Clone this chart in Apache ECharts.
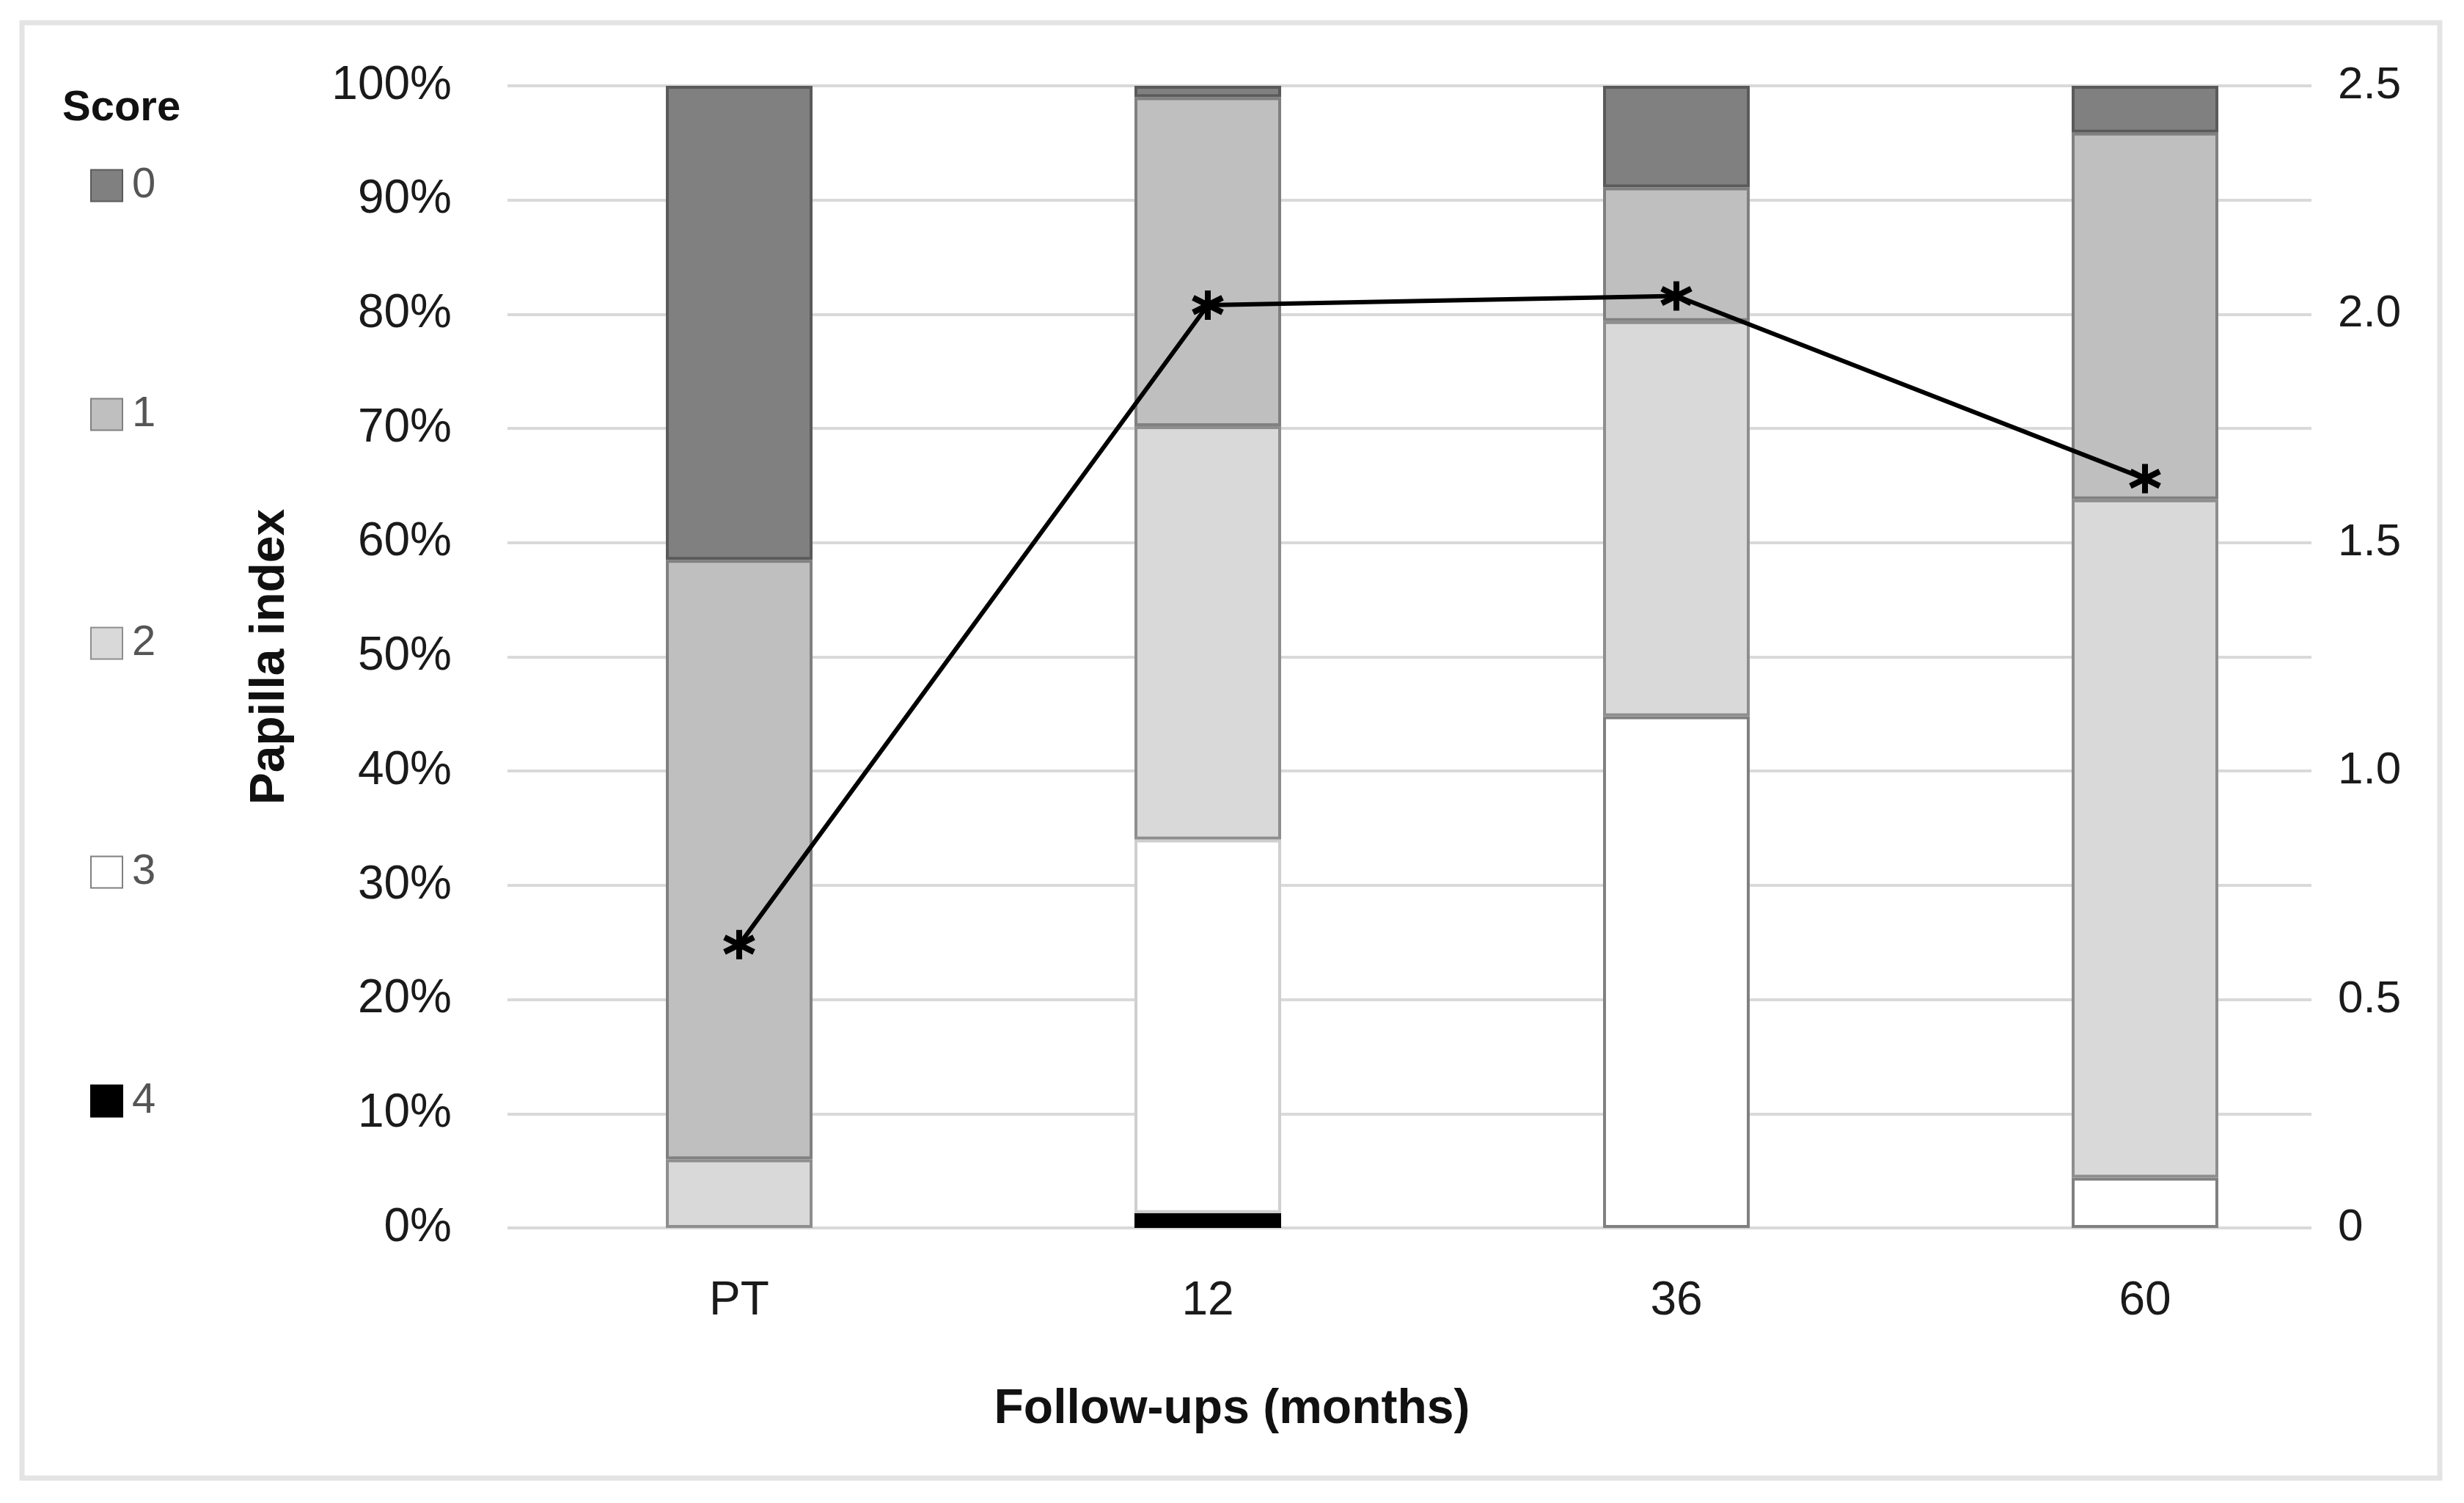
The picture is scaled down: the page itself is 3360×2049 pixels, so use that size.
<!DOCTYPE html>
<html>
<head>
<meta charset="utf-8">
<script src="https://cdn.jsdelivr.net/npm/echarts@6/dist/echarts.min.js"></script>
<style>
  html, body { margin: 0; padding: 0; background: #ffffff; }
  #chart { width: 3360px; height: 2049px; }
</style>
</head>
<body>
<div id="chart"></div>
<script>
// ---- data ----
const categories = ['PT', '12', '36', '60'];
const scoreNames = ['0', '1', '2', '3', '4'];
const score0 = [41.5, 1.0, 8.9, 4.1];
const score1 = [52.5, 28.8, 11.7, 32.1];
const score2 = [6.0, 36.2, 34.6, 59.4];
const score3 = [0, 32.7, 44.8, 4.4];
const score4 = [0, 1.3, 0, 0];
const papillaIndex = [0.62, 2.02, 2.04, 1.64];
const percentTicks = { min: 0, max: 100, interval: 10 };
const indexTicks = { min: 0, max: 2.5, interval: 0.5 };

// ---- styles ----
const FONT = '"Liberation Sans", Arial, sans-serif';
const fills = { '0': '#808080', '1': '#bfbfbf', '2': '#d9d9d9', '3': '#ffffff', '4': '#000000' };
const borders = { '0': '#5a5a5a', '1': '#808080', '2': '#8e8e8e', '3': '#808080', '4': '#000000' };
const valuesByScore = { '0': score0, '1': score1, '2': score2, '3': score3, '4': score4 };

const TOP = 117, BOTTOM = 2049 - 1674;

function barData(name) {
  return valuesByScore[name].map(function (v, i) {
    const item = { value: v === 0 ? '-' : v };
    if (name === '3' && i === 1) item.itemStyle = { borderColor: '#cfcfcf' };
    return item;
  });
}

const barSeries = ['4', '3', '2', '1', '0'].map(function (name) {
  return {
    name: name,
    type: 'bar',
    stack: 'total',
    xAxisIndex: 1,
    yAxisIndex: 2,
    barWidth: 200,
    itemStyle: { color: fills[name], borderColor: borders[name], borderWidth: 4 },
    data: barData(name),
    z: 2
  };
});

const asterisk = 'path://M10,0 L10,20 M1.3,5 L18.7,15 M1.3,15 L18.7,5';

const chart = echarts.init(document.getElementById('chart'), null, { renderer: 'canvas' });
chart.setOption({
  animation: false,
  backgroundColor: '#ffffff',
  textStyle: { fontFamily: FONT },
  graphic: [{
    type: 'rect',
    shape: { x: 30, y: 31, width: 3297, height: 1984 },
    style: { fill: 'none', stroke: '#e4e4e4', lineWidth: 7 },
    silent: true, z: -10
  }],
  title: [{
    text: 'Follow-ups (months)',
    left: 'center',
    top: 1884,
    textStyle: { fontFamily: FONT, fontSize: 66, fontWeight: 'bold', color: '#111' }
  }, {
    text: 'Score',
    left: 80,
    top: 114,
    textStyle: { fontFamily: FONT, fontSize: 58, fontWeight: 'bold', color: '#111' }
  }],
  legend: {
    data: scoreNames,
    orient: 'vertical',
    left: 118,
    top: 219,
    itemGap: 254,
    itemWidth: 43,
    itemHeight: 43,
    icon: 'rect',
    textStyle: { fontFamily: FONT, fontSize: 58, color: '#555', padding: [0, 0, 0, 8] }
  },
  grid: [
    { left: 692, right: 3360 - 3152, top: TOP, bottom: BOTTOM },
    { left: 688.5, right: 3360 - 3244.5, top: TOP, bottom: BOTTOM }
  ],
  xAxis: [
    { type: 'category', gridIndex: 0, data: categories, show: false },
    {
      type: 'category', gridIndex: 1, data: categories,
      axisLine: { show: false }, axisTick: { show: false },
      axisLabel: { fontFamily: FONT, fontSize: 64, color: '#1a1a1a', margin: 68 }
    }
  ],
  yAxis: [
    {
      type: 'value', gridIndex: 0, position: 'left',
      min: percentTicks.min, max: percentTicks.max, interval: percentTicks.interval,
      name: 'Papilla index', nameLocation: 'middle', nameRotate: 90, nameGap: 290,
      nameTextStyle: { fontFamily: FONT, fontSize: 66, fontWeight: 'bold', color: '#111' },
      axisLine: { show: false }, axisTick: { show: false },
      axisLabel: { fontFamily: FONT, fontSize: 64, color: '#1a1a1a', margin: 76,
        formatter: function (v) { return v + '%'; } },
      splitLine: { show: true, lineStyle: { color: '#d9d9d9', width: 4 } }
    },
    {
      type: 'value', gridIndex: 0, position: 'right',
      min: indexTicks.min, max: indexTicks.max, interval: indexTicks.interval,
      axisLine: { show: false }, axisTick: { show: false },
      axisLabel: { fontFamily: FONT, fontSize: 62, color: '#1a1a1a', margin: 36,
        formatter: function (v) { return v === 0 ? '0' : v.toFixed(1); } },
      splitLine: { show: false }
    },
    { type: 'value', gridIndex: 1, min: percentTicks.min, max: percentTicks.max, show: false, splitLine: { show: false } },
    { type: 'value', gridIndex: 1, min: indexTicks.min, max: indexTicks.max, show: false, splitLine: { show: false } }
  ],
  series: barSeries.concat([{
    name: 'Papilla index',
    type: 'line',
    xAxisIndex: 1,
    yAxisIndex: 3,
    data: papillaIndex,
    symbol: asterisk,
    symbolSize: 40,
    showAllSymbol: true,
    lineStyle: { color: '#000', width: 6 },
    itemStyle: { color: '#000', borderColor: '#000', borderWidth: 8 },
    z: 5
  }])
});
</script>
</body>
</html>
